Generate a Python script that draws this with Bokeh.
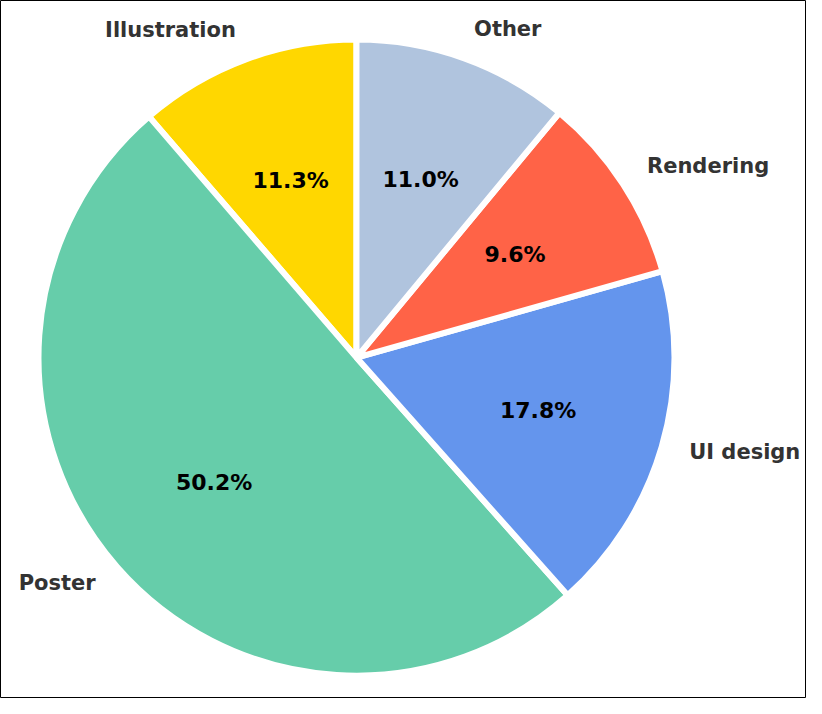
import numpy as np
from bokeh.plotting import figure
from bokeh.models import ColumnDataSource, Range1d
from bokeh.core.properties import value
from bokeh.embed import file_html
from bokeh.resources import INLINE

labels = ["Illustration", "Poster", "UI design", "Rendering", "Other"]
shares = [11.3, 50.2, 17.8, 9.6, 11.0]
colors = ["#FFD700", "#66CDAA", "#6495ED", "#FF6347", "#B0C4DE"]

vals = np.array(shares)
frac = vals / vals.sum()
ends = np.pi / 2 + 2 * np.pi * np.cumsum(frac)
starts = ends - 2 * np.pi * frac
mids = (starts + ends) / 2

src = ColumnDataSource(dict(
    start=starts, end=ends, color=colors,
    lx=1.09 * np.cos(mids), ly=1.09 * np.sin(mids) + 0.008,
    px=0.595 * np.cos(mids), py=0.595 * np.sin(mids),
    label=labels,
    pct=["%.1f%%" % v for v in shares],
    align=["left" if np.cos(m) > 0 else "right" for m in mids],
))

p = figure(
    width=806,
    height=698,
    output_backend="svg",
    toolbar_location=None,
    x_range=Range1d(-1.1195, 1.4151),
    y_range=Range1d(-1.072, 1.123),
    min_border=0,
)
p.axis.visible = False
p.grid.visible = False
p.outline_line_color = "black"
p.outline_line_width = 1
p.background_fill_color = "white"

p.wedge(x=0, y=0, radius=1.0, start_angle="start", end_angle="end",
        fill_color="color", line_color="white", line_width=6, source=src)

p.text(x="lx", y="ly", text="label", text_align="align", text_baseline="middle",
       text_font=value("DejaVu Sans"), text_font_style="bold",
       text_font_size="21px", text_color="#333333", source=src)
p.text(x="px", y="py", text="pct", text_align="center", text_baseline="middle",
       text_font=value("DejaVu Sans"), text_font_style="bold",
       text_font_size="22px", text_color="black", source=src)

open("out.html", "w").write(file_html(p, INLINE))
